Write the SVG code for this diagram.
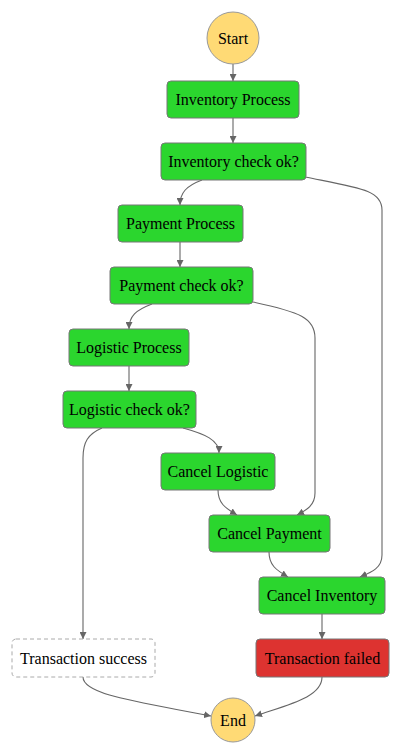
<svg xmlns="http://www.w3.org/2000/svg" width="401" height="755" viewBox="0 0 401 755">
<defs>
<marker id="arr" viewBox="0 0 10 10" refX="10" refY="5" markerWidth="7" markerHeight="7" markerUnits="userSpaceOnUse" orient="auto">
<path d="M0,0 L10,5 L0,10 z" fill="#666"/>
</marker>
<style>
.n rect{fill:#2bd62e;stroke:#777;stroke-width:1}
.n circle{fill:#ffda75;stroke:#999;stroke-width:1}
.n.fail rect{fill:#dd3330}
.n.succ rect{fill:#fff;stroke:#aaa;stroke-dasharray:4 3}
text{font-family:"Liberation Serif","Times New Roman",serif;font-size:16px;fill:#000;text-anchor:middle;dominant-baseline:central}
#edges path{fill:none;stroke:#666;stroke-width:1.1;marker-end:url(#arr)}
</style>
</defs>
<rect width="401" height="755" fill="#fff"/>
<g id="edges">
<path d="M233,64 L233,81"/>
<path d="M233,118 L233,143"/>
<path d="M202,180 C186,186 180,193 180,205"/>
<path d="M305,177 C360,188 382,190 382,210 L382,555 C382,568 372,572 360,577"/>
<path d="M180,242 L180,267"/>
<path d="M152,304 C136,310 129,316 129,329"/>
<path d="M253,302 C300,312 315,318 315,338 L315,493 C315,505 307,510 297,515"/>
<path d="M129,366 L129,391"/>
<path d="M183,428 C205,434 219,440 219,453"/>
<path d="M102,428 C88,434 83,442 83,458 L83,639"/>
<path d="M218,490 C218,503 225,508 237,515"/>
<path d="M269,552 C269,565 276,570 288,577"/>
<path d="M322,614 L322,639"/>
<path d="M83,677 C83,695 140,702 211,716"/>
<path d="M322,677 C322,697 290,704 255,716"/>
</g>
<g id="start" class="n"><circle cx="233" cy="38" r="26"/><text x="233" y="38">Start</text></g>
<g id="inventory-process" class="n"><rect x="167" y="81" width="132" height="37" rx="4"/><text x="233" y="99.5">Inventory Process</text></g>
<g id="inventory-check" class="n"><rect x="161" y="143" width="145" height="37" rx="4"/><text x="233.5" y="161.5">Inventory check ok?</text></g>
<g id="payment-process" class="n"><rect x="118" y="205" width="125" height="37" rx="4"/><text x="180.5" y="223.5">Payment Process</text></g>
<g id="payment-check" class="n"><rect x="110" y="267" width="143" height="37" rx="4"/><text x="181.5" y="285.5">Payment check ok?</text></g>
<g id="logistic-process" class="n"><rect x="69" y="329" width="120" height="37" rx="4"/><text x="129" y="347.5">Logistic Process</text></g>
<g id="logistic-check" class="n"><rect x="63" y="391" width="133" height="37" rx="4"/><text x="129.5" y="409.5">Logistic check ok?</text></g>
<g id="cancel-logistic" class="n"><rect x="161" y="453" width="114" height="37" rx="4"/><text x="218" y="471.5">Cancel Logistic</text></g>
<g id="cancel-payment" class="n"><rect x="209" y="515" width="121" height="37" rx="4"/><text x="269.5" y="533.5">Cancel Payment</text></g>
<g id="cancel-inventory" class="n"><rect x="259" y="577" width="126" height="37" rx="4"/><text x="322" y="595.5">Cancel Inventory</text></g>
<g id="transaction-success" class="n succ"><rect x="12" y="639" width="143" height="38" rx="4"/><text x="83.5" y="658">Transaction success</text></g>
<g id="transaction-failed" class="n fail"><rect x="256" y="639" width="133" height="38" rx="4"/><text x="322.5" y="658">Transaction failed</text></g>
<g id="end" class="n"><circle cx="233" cy="720" r="22"/><text x="233" y="720">End</text></g>
</svg>
